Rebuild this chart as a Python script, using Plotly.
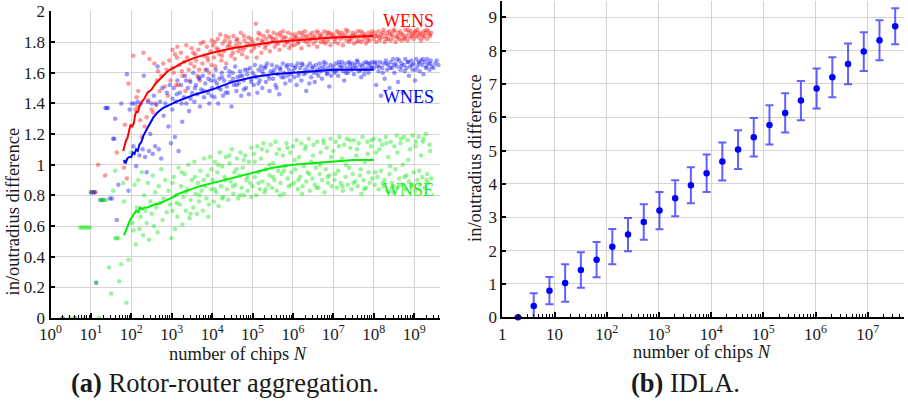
import plotly.graph_objects as go

# ---------------- data: (a) rotor-router aggregation ----------------
# points as (log10 N, in/outradius difference)
wens_points = [
    (1.02,0.82),(1.07,0.82),(1.11,0.82),(1.18,1.00),(1.35,0.93),(1.64,1.08),(1.82,0.98),(1.89,0.91),(1.84,1.26),(1.93,1.53),
    (2.05,1.71),(2.10,1.36),(2.13,1.44),(2.16,1.38),(2.17,1.48),(2.22,1.29),(2.26,1.18),(2.30,1.73),(2.33,1.25),(2.38,1.31),
    (2.42,1.42),(2.45,1.69),(2.50,1.36),(2.54,1.34),(2.57,1.66),(2.60,1.40),(2.63,1.55),(2.66,1.61),(2.70,1.48),(2.74,1.58),
    (2.79,1.66),(2.83,1.51),(2.87,1.62),(2.91,1.45),(2.94,1.68),(2.97,1.55),
    (3.02,1.75),(3.05,1.60),(3.08,1.72),(3.11,1.52),(3.14,1.77),(3.16,1.52),(3.20,1.65),(3.23,1.73),(3.27,1.58),(3.31,1.67),
    (3.34,1.48),(3.38,1.70),(3.42,1.62),(3.45,1.55),(3.49,1.76),(3.53,1.73),(3.56,1.64),(3.60,1.68),(3.63,1.58),(3.66,1.75),
    (3.70,1.55),(3.72,1.79),(3.76,1.66),(3.80,1.71),(3.83,1.62),(3.87,1.77),(3.90,1.68),(3.93,1.60),(3.96,1.74),(3.99,1.81),
    (4.02,1.78),(4.05,1.70),(4.08,1.64),(4.11,1.76),(4.14,1.82),(4.17,1.72),(4.20,1.85),(4.23,1.68),(4.26,1.79),(4.29,1.74),
    (4.32,1.81),(4.35,1.66),(4.38,1.77),(4.41,1.83),(4.44,1.80),(4.47,1.71),(4.50,1.76),(4.53,1.84),(4.56,1.69),(4.59,1.78),
    (4.62,1.82),(4.65,1.74),(4.68,1.79),(4.71,1.86),(4.74,1.72),(4.77,1.75),(4.80,1.81),(4.83,1.77),(4.86,1.70),(4.90,1.83),
    (4.94,1.78),(4.97,1.74),
    (5.00,1.80),(5.04,1.76),(5.08,1.92),(5.10,1.70),(5.13,1.82),(5.16,1.78),(5.19,1.85),(5.22,1.73),(5.25,1.80),(5.28,1.84),
    (5.31,1.76),(5.34,1.82),(5.37,1.87),(5.40,1.79),(5.43,1.74),(5.46,1.83),(5.49,1.80),(5.52,1.86),(5.55,1.77),(5.58,1.82),
    (5.61,1.85),(5.64,1.79),(5.67,1.75),(5.70,1.84),(5.73,1.81),(5.76,1.87),(5.79,1.78),(5.82,1.83),(5.85,1.80),(5.88,1.86),
    (5.91,1.76),(5.94,1.82),(5.97,1.85),
    (6.00,1.81),(6.03,1.78),(6.06,1.85),(6.09,1.83),(6.12,1.79),(6.15,1.86),(6.18,1.82),(6.21,1.76),(6.24,1.84),(6.27,1.81),
    (6.30,1.87),(6.33,1.80),(6.36,1.83),(6.39,1.78),(6.42,1.85),(6.45,1.82),(6.48,1.86),(6.51,1.79),(6.54,1.84),(6.57,1.81),
    (6.60,1.77),(6.63,1.86),(6.66,1.83),(6.69,1.80),(6.72,1.85),(6.75,1.82),(6.78,1.87),(6.81,1.79),(6.84,1.84),(6.87,1.81),
    (6.90,1.86),(6.93,1.78),(6.96,1.83),
    (7.00,1.85),(7.03,1.80),(7.06,1.83),(7.09,1.87),(7.12,1.79),(7.15,1.84),(7.18,1.82),(7.21,1.86),(7.24,1.78),(7.27,1.83),
    (7.30,1.85),(7.33,1.81),(7.36,1.87),(7.39,1.80),(7.42,1.84),(7.45,1.82),(7.48,1.86),(7.51,1.79),(7.54,1.85),(7.57,1.83),
    (7.60,1.87),(7.63,1.81),(7.66,1.84),(7.69,1.80),(7.72,1.86),(7.75,1.82),(7.78,1.85),(7.81,1.79),(7.84,1.83),(7.87,1.86),
    (7.90,1.81),(7.93,1.84),(7.96,1.87),
    (8.00,1.82),(8.03,1.86),(8.06,1.80),(8.09,1.84),(8.12,1.87),(8.15,1.81),(8.18,1.85),(8.21,1.83),(8.24,1.88),(8.27,1.80),
    (8.30,1.84),(8.33,1.86),(8.36,1.82),(8.39,1.87),(8.42,1.81),(8.45,1.85),(8.48,1.83),(8.51,1.88),(8.54,1.80),(8.57,1.84),
    (8.60,1.86),(8.63,1.82),(8.66,1.87),(8.69,1.81),(8.72,1.85),(8.75,1.83),(8.78,1.88),(8.81,1.84),(8.84,1.81),(8.87,1.86),
    (8.90,1.83),(8.93,1.87),(8.96,1.85),(8.99,1.82),(9.02,1.86),(9.05,1.84),(9.08,1.88),(9.11,1.83),(9.14,1.86),(9.17,1.81),
    (9.20,1.85),(9.23,1.87),(9.26,1.84),(9.29,1.86),(9.32,1.82),(9.35,1.87),(9.38,1.85),(9.42,1.86),
    (3.015,1.63),(3.13,1.70),(3.25,1.61),(3.36,1.78),(3.47,1.66),(3.58,1.72),(3.68,1.62),(3.78,1.80),(3.88,1.70),(3.98,1.65),
    (4.065,1.80),(4.155,1.75),(4.245,1.71),(4.335,1.84),(4.425,1.78),(4.515,1.73),(4.605,1.81),(4.695,1.76),(4.785,1.84),
    (4.875,1.79),(4.965,1.82),(5.055,1.78),(5.145,1.86),(5.235,1.81),(5.325,1.78),(5.415,1.84),(5.505,1.82),(5.595,1.79),
    (5.685,1.86),(5.775,1.83),(5.865,1.80),(5.955,1.78),(6.045,1.83),(6.135,1.80),(6.225,1.86),(6.315,1.84),(6.405,1.81),
    (6.495,1.83),(6.585,1.87),(6.675,1.84),(6.765,1.80),(6.855,1.86),(6.945,1.85),(7.045,1.82),(7.135,1.86),(7.225,1.84),
    (7.315,1.88),(7.405,1.82),(7.495,1.84),(7.585,1.80),(7.675,1.87),(7.765,1.84),(7.855,1.81),(7.945,1.85),(8.045,1.84),
    (8.135,1.83),(8.225,1.86),(8.315,1.82),(8.405,1.85),(8.495,1.87),(8.585,1.83),(8.675,1.85),(8.765,1.82),(8.855,1.88),
    (8.945,1.84),(9.035,1.87),(9.125,1.85),(9.215,1.83),(9.305,1.88),(9.395,1.84),
]

wnes_points = [
    (0.30,0.0),(0.60,0.0),
    (1.00,0.82),(1.04,0.82),(1.09,0.82),(1.13,0.23),(1.24,0.77),(1.30,0.77),(1.39,1.37),(1.36,1.37),(1.42,1.37),(1.47,0.78),
    (1.52,0.78),(1.55,1.17),(1.58,1.17),(1.60,1.30),(1.64,0.64),(1.68,0.87),(1.75,1.40),(1.84,1.02),(1.89,1.59),(1.93,0.83),
    (1.96,1.36),
    (2.01,1.40),(2.05,1.12),(2.08,1.40),(2.12,0.99),(2.16,1.41),(2.20,1.06),(2.24,1.40),(2.28,1.10),(2.31,1.58),(2.34,1.05),
    (2.38,0.95),(2.41,1.41),(2.44,1.09),(2.47,1.20),(2.50,1.40),(2.53,1.07),(2.56,1.45),(2.59,1.12),(2.62,1.39),(2.65,1.64),
    (2.68,1.10),(2.71,1.41),(2.74,1.04),(2.77,1.50),(2.80,1.32),(2.84,1.40),(2.88,1.47),(2.92,1.25),(2.95,1.52),(2.98,1.14),
    (3.02,1.43),(3.05,1.50),(3.08,1.18),(3.11,1.41),(3.14,1.55),(3.17,1.09),(3.20,1.47),(3.23,1.52),(3.26,1.28),(3.30,1.44),
    (3.33,1.58),(3.36,1.40),(3.40,1.50),(3.43,1.35),(3.46,1.54),(3.50,1.47),(3.53,1.60),(3.56,1.41),(3.60,1.52),(3.63,1.46),
    (3.67,1.56),(3.70,1.38),(3.73,1.49),(3.77,1.58),(3.80,1.44),(3.83,1.53),(3.87,1.62),(3.90,1.47),(3.93,1.40),(3.97,1.55),
    (4.00,1.50),(4.03,1.58),(4.06,1.44),(4.09,1.62),(4.12,1.53),(4.15,1.40),(4.18,1.56),(4.21,1.49),(4.24,1.60),(4.27,1.45),
    (4.30,1.55),(4.33,1.63),(4.36,1.51),(4.39,1.47),(4.42,1.58),(4.45,1.54),(4.48,1.38),(4.51,1.60),(4.54,1.52),(4.57,1.64),
    (4.60,1.48),(4.63,1.57),(4.66,1.53),(4.69,1.61),(4.72,1.45),(4.75,1.58),(4.78,1.55),(4.81,1.62),(4.84,1.50),(4.87,1.59),
    (4.91,1.46),(4.94,1.63),(4.97,1.56),
    (5.00,1.60),(5.03,1.52),(5.06,1.65),(5.09,1.57),(5.12,1.47),(5.15,1.62),(5.18,1.55),(5.21,1.64),(5.24,1.50),(5.27,1.59),
    (5.30,1.63),(5.33,1.54),(5.36,1.66),(5.39,1.58),(5.42,1.48),(5.45,1.61),(5.48,1.65),(5.51,1.56),(5.54,1.62),(5.57,1.52),
    (5.60,1.64),(5.63,1.59),(5.66,1.46),(5.69,1.63),(5.72,1.57),(5.75,1.66),(5.78,1.60),(5.81,1.53),(5.84,1.64),(5.87,1.58),
    (5.90,1.62),(5.93,1.55),(5.96,1.65),
    (6.00,1.61),(6.03,1.57),(6.06,1.64),(6.09,1.52),(6.12,1.66),(6.15,1.60),(6.18,1.63),(6.21,1.55),(6.24,1.65),(6.27,1.59),
    (6.30,1.62),(6.33,1.48),(6.36,1.64),(6.39,1.61),(6.42,1.66),(6.45,1.57),(6.48,1.63),(6.51,1.60),(6.54,1.54),(6.57,1.65),
    (6.60,1.62),(6.63,1.58),(6.66,1.66),(6.69,1.61),(6.72,1.56),(6.75,1.64),(6.78,1.62),(6.81,1.66),(6.84,1.59),(6.87,1.63),
    (6.90,1.51),(6.93,1.65),(6.96,1.62),
    (7.00,1.64),(7.03,1.60),(7.06,1.66),(7.09,1.62),(7.12,1.58),(7.15,1.65),(7.18,1.63),(7.21,1.67),(7.24,1.61),(7.27,1.55),
    (7.30,1.66),(7.33,1.63),(7.36,1.60),(7.39,1.67),(7.42,1.64),(7.45,1.62),(7.48,1.66),(7.51,1.59),(7.54,1.65),(7.57,1.63),
    (7.60,1.67),(7.63,1.61),(7.66,1.65),(7.69,1.57),(7.72,1.64),(7.75,1.66),(7.78,1.62),(7.81,1.67),(7.84,1.63),(7.87,1.60),
    (7.90,1.66),(7.93,1.64),(7.96,1.67),
    (8.00,1.63),(8.03,1.66),(8.06,1.52),(8.09,1.64),(8.12,1.61),(8.15,1.67),(8.18,1.45),(8.21,1.63),(8.24,1.66),(8.27,1.56),
    (8.30,1.68),(8.33,1.62),(8.36,1.65),(8.39,1.50),(8.42,1.67),(8.45,1.63),(8.48,1.69),(8.51,1.60),(8.54,1.66),(8.57,1.64),
    (8.60,1.54),(8.63,1.68),(8.66,1.62),(8.69,1.66),(8.72,1.47),(8.75,1.65),(8.78,1.69),(8.81,1.63),(8.84,1.67),(8.87,1.58),
    (8.90,1.64),(8.93,1.68),(8.96,1.62),(8.99,1.66),(9.02,1.55),(9.05,1.69),(9.08,1.64),(9.11,1.67),(9.14,1.61),(9.17,1.68),
    (9.20,1.65),(9.23,1.59),(9.26,1.67),(9.29,1.63),(9.32,1.69),(9.35,1.66),(9.38,1.62),(9.41,1.68),(9.44,1.64),(9.52,1.66),
    (9.60,1.65),
    (3.015,1.36),(3.125,1.46),(3.245,1.40),(3.355,1.55),(3.465,1.43),(3.575,1.50),(3.685,1.57),(3.795,1.48),(3.905,1.56),
    (3.985,1.45),(4.065,1.55),(4.155,1.50),(4.245,1.57),(4.335,1.47),(4.425,1.61),(4.515,1.56),(4.605,1.52),(4.695,1.58),
    (4.785,1.49),(4.875,1.62),(4.965,1.54),(5.055,1.58),(5.145,1.53),(5.235,1.61),(5.325,1.64),(5.415,1.56),(5.505,1.60),
    (5.595,1.50),(5.685,1.62),(5.775,1.57),(5.865,1.65),(5.955,1.59),(6.045,1.63),(6.135,1.58),(6.225,1.66),(6.315,1.60),
    (6.405,1.53),(6.495,1.64),(6.585,1.60),(6.675,1.63),(6.765,1.67),(6.855,1.60),(6.945,1.58),(7.045,1.61),(7.135,1.67),
    (7.225,1.64),(7.315,1.60),(7.405,1.66),(7.495,1.63),(7.585,1.68),(7.675,1.62),(7.765,1.59),(7.855,1.66),(7.945,1.63),
    (8.045,1.67),(8.135,1.64),(8.225,1.60),(8.315,1.66),(8.405,1.63),(8.495,1.65),(8.585,1.69),(8.675,1.64),(8.765,1.61),
    (8.855,1.67),(8.945,1.65),(9.035,1.62),(9.125,1.66),(9.215,1.69),(9.305,1.64),(9.395,1.66),(9.48,1.63),(9.56,1.68),
]

wnse_points = [
    (0.30,0.0),(0.48,0.0),(0.60,0.0),(0.85,0.0),(1.20,0.0),
    (0.73,0.59),(0.78,0.59),(0.83,0.59),(0.88,0.59),(0.93,0.59),(0.98,0.59),(1.02,0.82),(1.13,0.23),(1.23,0.77),(1.28,0.77),
    (1.33,0.77),(1.38,0.77),(1.45,0.33),(1.50,0.16),(1.55,0.83),(1.60,0.52),(1.64,0.52),(1.68,0.52),(1.60,0.96),(1.70,0.24),
    (1.75,0.35),(1.80,0.88),(1.82,0.76),(1.88,0.10),(1.93,0.38),(1.99,1.08),
    (2.02,0.62),(2.05,0.57),(2.08,0.87),(2.11,0.48),(2.14,0.72),(2.17,0.90),(2.20,0.58),(2.23,0.66),(2.26,0.95),(2.29,0.54),
    (2.32,0.80),(2.35,0.70),(2.38,0.62),(2.41,0.88),(2.44,0.51),(2.47,0.76),(2.50,0.68),(2.53,0.93),(2.56,0.60),(2.59,0.82),
    (2.62,0.72),(2.65,0.56),(2.68,0.86),(2.71,0.75),(2.74,0.97),(2.77,0.64),(2.80,0.78),(2.84,0.90),(2.88,0.69),(2.92,0.83),
    (2.96,0.74),(2.99,0.52),
    (3.02,0.70),(3.05,0.92),(3.08,0.58),(3.11,0.80),(3.14,0.66),(3.17,0.98),(3.20,0.74),(3.23,0.86),(3.26,0.61),(3.29,0.79),
    (3.32,0.94),(3.35,0.70),(3.38,0.84),(3.41,1.00),(3.44,0.65),(3.47,0.77),(3.50,0.90),(3.53,0.72),(3.56,1.02),(3.59,0.81),
    (3.62,0.68),(3.65,0.88),(3.68,0.76),(3.71,0.96),(3.74,0.83),(3.77,0.70),(3.80,1.04),(3.83,0.86),(3.86,0.78),(3.89,0.93),
    (3.92,0.74),(3.95,1.05),(3.98,0.84),
    (4.01,0.90),(4.04,0.76),(4.07,1.02),(4.10,0.82),(4.13,0.95),(4.16,0.73),(4.19,1.08),(4.22,0.86),(4.25,0.99),(4.28,0.79),
    (4.31,0.92),(4.34,1.05),(4.37,0.84),(4.40,0.77),(4.43,1.01),(4.46,0.89),(4.49,1.10),(4.52,0.81),(4.55,0.95),(4.58,0.87),
    (4.61,1.04),(4.64,0.78),(4.67,0.93),(4.70,1.08),(4.73,0.85),(4.76,0.98),(4.79,0.80),(4.82,1.06),(4.85,0.90),(4.88,0.83),
    (4.91,1.02),(4.94,0.88),(4.97,1.11),
    (5.00,0.86),(5.03,1.07),(5.06,0.92),(5.09,0.80),(5.12,1.12),(5.15,0.95),(5.18,0.84),(5.21,1.04),(5.24,0.89),(5.27,1.14),
    (5.30,0.82),(5.33,0.97),(5.36,1.09),(5.39,0.87),(5.42,0.93),(5.45,1.13),(5.48,0.85),(5.51,1.01),(5.54,0.90),(5.57,1.15),
    (5.60,0.83),(5.63,0.96),(5.66,1.10),(5.69,0.88),(5.72,0.94),(5.75,1.06),(5.78,0.81),(5.81,0.99),(5.84,1.14),(5.87,0.91),
    (5.90,0.86),(5.93,1.08),(5.96,0.95),
    (6.00,1.12),(6.03,0.88),(6.06,0.97),(6.09,1.16),(6.12,0.84),(6.15,1.05),(6.18,0.92),(6.21,1.14),(6.24,0.86),(6.27,0.99),
    (6.30,1.10),(6.33,0.89),(6.36,0.95),(6.39,1.17),(6.42,0.83),(6.45,1.02),(6.48,0.91),(6.51,1.13),(6.54,0.87),(6.57,0.98),
    (6.60,1.15),(6.63,0.85),(6.66,0.94),(6.69,1.08),(6.72,0.90),(6.75,1.16),(6.78,0.82),(6.81,0.97),(6.84,1.11),(6.87,0.88),
    (6.90,0.93),(6.93,1.17),(6.96,0.86),
    (7.00,1.09),(7.03,0.90),(7.06,1.15),(7.09,0.85),(7.12,0.96),(7.15,1.18),(7.18,0.88),(7.21,1.04),(7.24,0.83),(7.27,1.13),
    (7.30,0.92),(7.33,1.17),(7.36,0.87),(7.39,0.98),(7.42,1.11),(7.45,0.84),(7.48,0.94),(7.51,1.16),(7.54,0.89),(7.57,1.06),
    (7.60,0.86),(7.63,1.14),(7.66,0.93),(7.69,0.81),(7.72,1.18),(7.75,0.90),(7.78,1.02),(7.81,0.85),(7.84,1.15),(7.87,0.95),
    (7.90,0.88),(7.93,1.12),(7.96,0.91),
    (8.00,1.17),(8.03,0.87),(8.06,1.08),(8.09,0.92),(8.12,0.84),(8.15,1.16),(8.18,0.96),(8.21,1.13),(8.24,0.86),(8.27,0.90),
    (8.30,1.18),(8.33,0.83),(8.36,1.05),(8.39,0.94),(8.42,1.15),(8.45,0.88),(8.48,0.82),(8.51,1.12),(8.54,0.97),(8.57,1.19),
    (8.60,0.85),(8.63,0.91),(8.66,1.14),(8.69,0.87),(8.72,1.00),(8.75,1.18),(8.78,0.84),(8.81,0.93),(8.84,1.16),(8.87,0.89),
    (8.90,1.10),(8.93,0.86),(8.96,1.19),(8.99,0.95),(9.02,0.83),(9.05,1.15),(9.08,0.90),(9.11,1.18),(9.14,0.87),(9.17,1.06),
    (9.20,0.92),(9.23,1.17),(9.26,0.85),(9.29,1.20),(9.32,0.94),(9.35,0.88),(9.38,1.13),(9.42,0.91),
    (3.015,0.88),(3.125,0.75),(3.245,0.95),(3.355,0.82),(3.465,0.68),(3.575,0.92),(3.685,0.80),(3.795,0.90),(3.905,0.66),
    (3.985,0.97),(4.065,0.84),(4.155,1.00),(4.245,0.78),(4.335,0.90),(4.425,1.06),(4.515,0.86),(4.605,0.97),(4.695,0.80),
    (4.785,1.03),(4.875,0.92),(4.965,0.79),(5.055,1.02),(5.145,0.88),(5.235,1.10),(5.325,0.84),(5.415,1.00),(5.505,0.92),
    (5.595,1.07),(5.685,0.80),(5.775,0.96),(5.865,1.11),(5.955,0.87),(6.045,1.03),(6.135,0.90),(6.225,0.81),(6.315,1.12),
    (6.405,0.94),(6.495,1.06),(6.585,0.85),(6.675,1.00),(6.765,1.14),(6.855,0.92),(6.945,1.05),(7.045,0.94),(7.135,1.12),
    (7.225,0.86),(7.315,1.00),(7.405,1.16),(7.495,0.88),(7.585,1.10),(7.675,0.97),(7.765,0.84),(7.855,1.07),(7.945,1.16),
    (8.045,0.95),(8.135,1.10),(8.225,0.88),(8.315,1.14),(8.405,0.99),(8.495,0.86),(8.585,1.08),(8.675,1.17),(8.765,0.92),
    (8.855,1.03),(8.945,0.87),(9.035,1.12),(9.125,0.96),(9.215,1.15),(9.305,0.90),(9.395,1.09),
]

# running averages (lines)
wens_line = [
    (1.80,1.09),(1.84,1.13),(1.87,1.16),(1.90,1.17),(1.94,1.22),(1.98,1.26),(2.02,1.25),(2.06,1.27),(2.10,1.33),(2.13,1.35),
    (2.16,1.34),(2.20,1.38),(2.26,1.41),(2.32,1.43),(2.40,1.47),(2.50,1.49),(2.60,1.53),(2.75,1.57),(2.90,1.61),(3.10,1.64),
    (3.30,1.67),(3.60,1.70),(4.00,1.73),(4.50,1.76),(5.00,1.78),(5.50,1.80),(6.00,1.81),(6.50,1.82),(7.00,1.83),(7.50,1.835),
    (8.00,1.84),
]
wnes_line = [
    (1.82,1.03),(1.86,1.01),(1.90,1.04),(1.95,1.05),(2.00,1.05),(2.04,1.08),(2.08,1.07),(2.12,1.10),(2.16,1.09),(2.20,1.13),
    (2.25,1.15),(2.30,1.19),(2.38,1.23),(2.46,1.27),(2.55,1.31),(2.65,1.34),(2.78,1.37),(2.95,1.39),(3.10,1.41),(3.30,1.43),
    (3.60,1.46),(4.00,1.49),(4.50,1.54),(5.00,1.57),(5.50,1.59),(6.00,1.60),(6.50,1.61),(7.00,1.62),(7.50,1.62),(8.00,1.62),
]
wnse_line = [
    (1.82,0.54),(1.86,0.57),(1.89,0.59),(1.93,0.62),(1.97,0.64),(2.02,0.66),(2.07,0.68),(2.12,0.70),(2.17,0.69),(2.22,0.72),
    (2.27,0.71),(2.33,0.72),(2.40,0.72),(2.48,0.73),(2.56,0.74),(2.67,0.745),(2.80,0.76),(2.92,0.77),(3.05,0.79),(3.16,0.81),
    (3.37,0.83),(3.70,0.86),(4.00,0.88),(4.44,0.91),(5.00,0.95),(5.50,0.98),(6.00,1.00),(6.50,1.01),(7.00,1.02),(7.50,1.03),
    (8.00,1.03),
]

# ---------------- data: (b) IDLA ----------------
idla_exponent = list(range(1, 26))          # N = 2^k
idla_mean = [0.0, 0.34, 0.80, 1.03, 1.42, 1.73, 2.12, 2.48, 2.86, 3.20, 3.57, 3.96, 4.32,
             4.67, 5.03, 5.40, 5.77, 6.13, 6.50, 6.86, 7.20, 7.60, 7.97, 8.31, 8.73]
idla_err = [0.0, 0.38, 0.41, 0.56, 0.53, 0.53, 0.53, 0.50, 0.53, 0.56, 0.54, 0.54, 0.56,
            0.57, 0.58, 0.58, 0.59, 0.59, 0.59, 0.60, 0.60, 0.61, 0.58, 0.60, 0.54]

left_xticks = [10 ** k for k in range(0, 10)]
left_xticktext = ["10<sup>%d</sup>" % k for k in range(0, 10)]
right_xticks = [10 ** k for k in range(0, 8)]
right_xticktext = ["1", "10"] + ["10<sup>%d</sup>" % k for k in range(2, 8)]

FONT = "Liberation Serif"
TXT = "#1a1a1a"

def split(points):
    return [10 ** p[0] for p in points], [p[1] for p in points]

fig = go.Figure()

scatter_style = [(wens_points, "rgba(255,0,0,0.4)"),
                 (wnes_points, "rgba(0,0,255,0.4)"),
                 (wnse_points, "rgba(0,230,0,0.4)")]
for pts, col in scatter_style:
    xs, ys = split(pts)
    fig.add_trace(go.Scatter(x=xs, y=ys, mode="markers", xaxis="x", yaxis="y",
                             marker=dict(size=4.5, color=col, line=dict(width=0)),
                             hoverinfo="skip", showlegend=False, cliponaxis=False))

line_style = [(wens_line, "#ff0000"), (wnes_line, "#0000ff"), (wnse_line, "#00ee00")]
for pts, col in line_style:
    xs, ys = split(pts)
    fig.add_trace(go.Scatter(x=xs, y=ys, mode="lines", xaxis="x", yaxis="y",
                             line=dict(color=col, width=2), hoverinfo="skip", showlegend=False))

fig.add_trace(go.Scatter(
    x=[2 ** k for k in idla_exponent], y=idla_mean, mode="markers", xaxis="x2", yaxis="y2",
    marker=dict(size=6.5, color="#0000ff"),
    error_y=dict(type="data", array=idla_err, color="rgba(30,30,255,0.7)", thickness=2, width=4),
    hoverinfo="skip", showlegend=False, cliponaxis=False))

# minor tick positions (axis styling only)
left_minor = [m * 10 ** k for k in range(0, 10) for m in range(2, 10)]
right_minor = [m * 10 ** k for k in range(0, 8) for m in range(2, 10)]

H, W = 401, 908
def py(px):
    return (H - px) / H

common_x = dict(type="log", showline=True, linecolor="black", linewidth=2, mirror=False,
                showgrid=True, gridcolor="#d4d4d4", gridwidth=1.3, zeroline=False,
                ticks="inside", ticklen=5, tickwidth=1.5, tickcolor="black", automargin=False,
                tickfont=dict(family=FONT, size=17, color=TXT), tickmode="array")
common_y = dict(showline=True, linecolor="black", linewidth=2, mirror=False,
                showgrid=True, gridcolor="#d4d4d4", gridwidth=1.3, zeroline=False,
                ticks="inside", ticklen=4, tickwidth=1.5, tickcolor="black", automargin=False,
                tickfont=dict(family=FONT, size=17, color=TXT))

fig.update_layout(
    width=W, height=H, margin=dict(l=0, r=0, t=0, b=0, pad=0, autoexpand=False),
    paper_bgcolor="white", plot_bgcolor="white", showlegend=False,
    font=dict(family=FONT, color=TXT),
    xaxis=dict(common_x, domain=[50.5 / W, 440 / W], range=[0, 9.64],
               tickvals=left_xticks, ticktext=left_xticktext, anchor="y",
               minor=dict(tickvals=left_minor, ticks="inside", ticklen=3, tickcolor="black",
                          tickwidth=1, showgrid=False)),
    yaxis=dict(common_y, domain=[py(318), py(11.4)], range=[0, 2], dtick=0.2, tick0=0, anchor="x"),
    xaxis2=dict(common_x, domain=[502.3 / W, 904.3 / W], range=[0, 7.70],
                tickvals=right_xticks, ticktext=right_xticktext, anchor="y2",
                minor=dict(tickvals=right_minor, ticks="inside", ticklen=3, tickcolor="black",
                           tickwidth=1, showgrid=False)),
    yaxis2=dict(common_y, domain=[py(317.3), py(0.6)], range=[0, 9.5], dtick=1, tick0=0, anchor="x2"),
)

ann = []
# series labels
for txt, lx, v, col in [("WENS", 8.85, 1.94, "#ff0000"), ("WNES", 8.85, 1.44, "#0000ff"),
                        ("WNSE", 8.85, 0.835, "#22ee22")]:
    ann.append(dict(x=lx, y=v, xref="x", yref="y", text=txt, showarrow=False,
                    xanchor="center", yanchor="middle",
                    font=dict(family=FONT, size=18, color=col)))
def paper_text(px, pyy, text, size, angle=0):
    return dict(x=px / W, y=py(pyy), xref="paper", yref="paper", text=text, showarrow=False,
                xanchor="center", yanchor="middle", textangle=angle,
                font=dict(family=FONT, size=size, color=TXT))
# axis titles
ann.append(paper_text(13, 211.5, "in/outradius difference", 18.5, -90))
ann.append(paper_text(475, 158, "in/outradius difference", 18.5, -90))
ann.append(paper_text(238.8, 354, "number of chips <i>N</i>", 18.5))
ann.append(paper_text(702.5, 352, "number of chips <i>N</i>", 18.5))
# captions
ann.append(paper_text(224.7, 383, "<b>(a)</b> Rotor-router aggregation.", 26.5))
ann.append(paper_text(685, 383, "<b>(b)</b> IDLA.", 26.5))
fig.update_layout(annotations=ann)

fig.write_html("out.html", config={"displayModeBar": False},
               post_script="document.body.style.margin='0';document.body.style.padding='0';"
                           "document.body.style.overflow='hidden';")
